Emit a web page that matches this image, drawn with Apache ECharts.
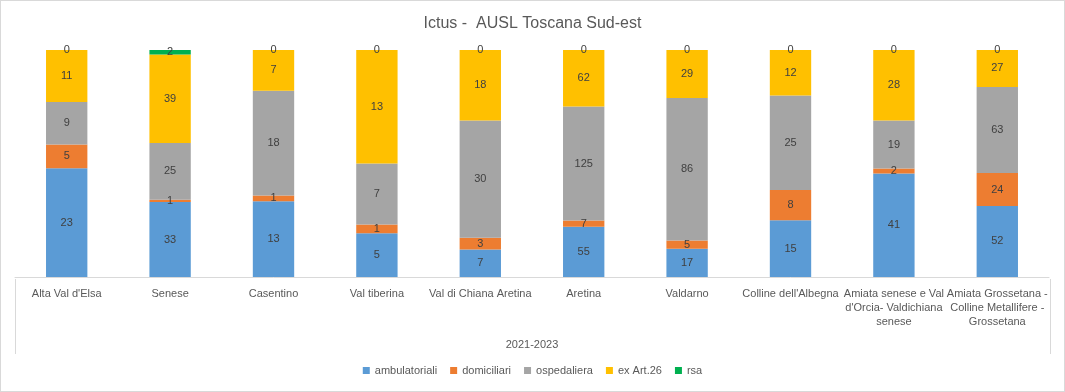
<!DOCTYPE html>
<html>
<head>
<meta charset="utf-8">
<script src="https://cdn.jsdelivr.net/npm/echarts@6/dist/echarts.min.js"></script>
<style>
html,body{margin:0;padding:0;background:#fff;}
#c{width:1065px;height:392px;box-sizing:border-box;border:1px solid #d9d9d9;}
</style>
</head>
<body>
<div id="c"></div>
<script>
const categories = [
  "Alta Val d'Elsa",
  "Senese",
  "Casentino",
  "Val tiberina",
  "Val di Chiana Aretina",
  "Aretina",
  "Valdarno",
  "Colline dell'Albegna",
  "Amiata senese e Val\nd'Orcia- Valdichiana\nsenese",
  "Amiata Grossetana -\nColline Metallifere -\nGrossetana"
];
const ambulatoriali = [23, 33, 13, 5, 7, 55, 17, 15, 41, 52];
const domiciliari   = [5, 1, 1, 1, 3, 7, 5, 8, 2, 24];
const ospedaliera   = [9, 25, 18, 7, 30, 125, 86, 25, 19, 63];
const exArt26       = [11, 39, 7, 13, 18, 62, 29, 12, 28, 27];
const rsa           = [0, 2, 0, 0, 0, 0, 0, 0, 0, 0];
const axisName = "2021-2023";
const titleText = "Ictus -  AUSL Toscana Sud-est";

const seriesDefs = [
  {name: "ambulatoriali", data: ambulatoriali, color: "#5B9BD5"},
  {name: "domiciliari", data: domiciliari, color: "#ED7D31"},
  {name: "ospedaliera", data: ospedaliera, color: "#A5A5A5"},
  {name: "ex Art.26", data: exArt26, color: "#FFC000"},
  {name: "rsa", data: rsa, color: "#00B050"}
];
const totals = categories.map((_, i) => seriesDefs.reduce((s, d) => s + d.data[i], 0));
const FONT = "Liberation Sans";

const chart = echarts.init(document.getElementById('c'));
chart.setOption({
  animation: false,
  textStyle: {fontFamily: FONT},
  title: {
    text: titleText, left: 'center', top: 10,
    textStyle: {fontFamily: FONT, fontSize: 16, fontWeight: 'normal', color: '#595959'}
  },
  legend: {
    bottom: 10, left: 'center', icon: 'rect', itemWidth: 7, itemHeight: 7, itemGap: 13,
    textStyle: {fontFamily: FONT, fontSize: 11, color: '#595959'},
    data: seriesDefs.map(d => d.name)
  },
  grid: {left: 14, right: 15, top: 49, bottom: 114, containLabel: false},
  xAxis: {
    type: 'category', data: categories,
    name: axisName, nameLocation: 'middle', nameGap: 62,
    nameTextStyle: {fontFamily: FONT, fontSize: 11, color: '#595959'},
    axisLine: {show: true, lineStyle: {color: '#d9d9d9', width: 1}},
    axisTick: {show: false},
    axisLabel: {fontFamily: FONT, fontSize: 11, color: '#595959', margin: 10, lineHeight: 14, interval: 0}
  },
  yAxis: {type: 'value', min: 0, max: 100, show: false, splitLine: {show: false}},
  graphic: [
    {type: 'line', shape: {x1: 14.5, y1: 278, x2: 14.5, y2: 353}, style: {stroke: '#d9d9d9', lineWidth: 1}},
    {type: 'line', shape: {x1: 1049.5, y1: 278, x2: 1049.5, y2: 353}, style: {stroke: '#d9d9d9', lineWidth: 1}}
  ],
  series: seriesDefs.map(d => ({
    name: d.name, type: 'bar', stack: 'total', barCategoryGap: '60%',
    itemStyle: {color: d.color},
    data: d.data.map((v, i) => ({value: v / totals[i] * 100, raw: v})),
    label: {
      show: true, position: 'inside', fontFamily: FONT, fontSize: 11, color: '#404040',
      formatter: p => String(p.data.raw)
    }
  }))
});
</script>
</body>
</html>
